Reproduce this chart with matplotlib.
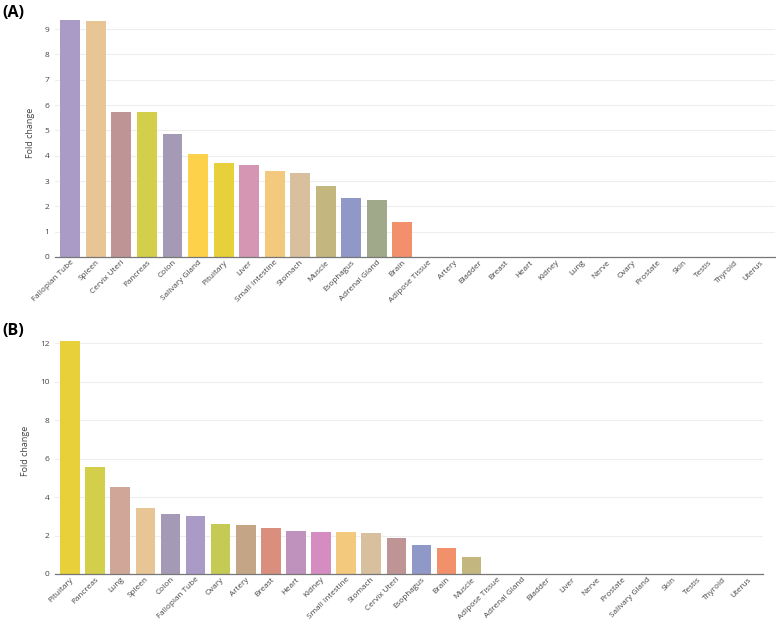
import matplotlib
matplotlib.use("Agg")
import matplotlib.pyplot as plt

plt.rcParams['font.family'] = ['Open Sans', 'DejaVu Sans']

# panel A
tissues_a = ["Fallopian Tube", "Spleen", "Cervix Uteri", "Pancreas", "Colon", "Salivary Gland",
             "Pituitary", "Liver", "Small Intestine", "Stomach", "Muscle", "Esophagus",
             "Adrenal Gland", "Brain", "Adipose Tissue", "Artery", "Bladder", "Breast", "Heart",
             "Kidney", "Lung", "Nerve", "Ovary", "Prostate", "Skin", "Testis", "Thyroid", "Uterus"]
fold_a = [9.36, 9.32, 5.73, 5.73, 4.86, 4.07, 3.71, 3.64, 3.40, 3.32, 2.80, 2.33, 2.26, 1.38,
          0, 0, 0, 0, 0, 0, 0, 0, 0, 0, 0, 0, 0, 0]

# panel B
tissues_b = ["Pituitary", "Pancreas", "Lung", "Spleen", "Colon", "Fallopian Tube", "Ovary",
             "Artery", "Breast", "Heart", "Kidney", "Small Intestine", "Stomach", "Cervix Uteri",
             "Esophagus", "Brain", "Muscle", "Adipose Tissue", "Adrenal Gland", "Bladder", "Liver",
             "Nerve", "Prostate", "Salivary Gland", "Skin", "Testis", "Thyroid", "Uterus"]
fold_b = [12.14, 5.58, 4.54, 3.43, 3.14, 3.00, 2.62, 2.56, 2.37, 2.25, 2.18, 2.18, 2.13, 1.85,
          1.50, 1.33, 0.87, 0, 0, 0, 0, 0, 0, 0, 0, 0, 0, 0]

tissue_colors = {
    "Fallopian Tube": "#A99BC6", "Spleen": "#E8C595", "Cervix Uteri": "#BE9494",
    "Pancreas": "#D4CF4A", "Colon": "#A49AB5", "Salivary Gland": "#FDD24A",
    "Pituitary": "#E8D03A", "Liver": "#D596B3", "Small Intestine": "#F2C97D",
    "Stomach": "#D8BF9D", "Muscle": "#C3B67F", "Esophagus": "#8F98C7",
    "Adrenal Gland": "#A0AA8B", "Brain": "#F1906A", "Lung": "#CFA697",
    "Ovary": "#C4CA54", "Artery": "#C4A585", "Breast": "#D98E7E",
    "Heart": "#BF92BE", "Kidney": "#D48CC1",
}


def draw_panel(ax, tissues, values, ylim, yticks):
    colors = [tissue_colors.get(t, "#cccccc") for t in tissues]
    ax.bar(range(len(tissues)), values, width=0.78, color=colors, zorder=2)
    ax.set_xlim(-0.6, len(tissues) - 0.4)
    ax.set_ylim(*ylim)
    ax.set_yticks(yticks)
    ax.set_xticks(range(len(tissues)))
    ax.set_xticklabels(tissues, rotation=45, ha="right", rotation_mode="anchor",
                       fontsize=5.9, color="#444444")
    ax.tick_params(axis="y", labelsize=6, labelcolor="#444444", length=0, pad=4)
    ax.tick_params(axis="x", length=0, pad=1.5)
    ax.grid(axis="y", color="#eeeeee", linewidth=0.8, zorder=0)
    for s in ["top", "right", "left"]:
        ax.spines[s].set_visible(False)
    ax.spines["bottom"].set_color("#777777")
    ax.spines["bottom"].set_linewidth(0.9)
    ax.set_ylabel("Fold change", fontsize=6.5, color="#444444", labelpad=7)


fig = plt.figure(figsize=(7.76, 6.23), dpi=100)

ax1 = fig.add_axes([0.0709, 0.5875, 0.928, 0.3995])
draw_panel(ax1, tissues_a, fold_a, (0, 9.83), range(0, 10))

ax2 = fig.add_axes([0.0709, 0.0787, 0.912, 0.395])
draw_panel(ax2, tissues_b, fold_b, (0, 12.8), range(0, 13, 2))

fig.text(0.003, 0.992, "(A)", fontsize=11.5, fontweight="bold", va="top", ha="left")
fig.text(0.003, 0.482, "(B)", fontsize=11.5, fontweight="bold", va="top", ha="left")

fig.savefig("out.png", dpi=100, facecolor="white")
